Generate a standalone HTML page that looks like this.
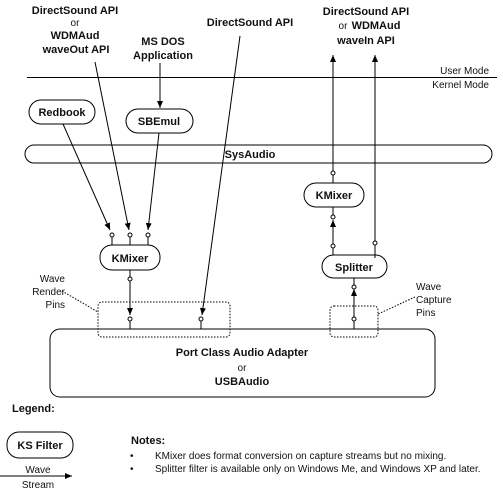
<!DOCTYPE html>
<html><head><meta charset="utf-8"><style>
html,body{margin:0;padding:0;background:#fff;}
svg{display:block;}
text{font-family:"Liberation Sans",Arial,sans-serif;fill:#111;}
.b{font-weight:bold;font-size:11px;}
.n{font-size:10px;}
</style></head><body>
<svg width="503" height="493" viewBox="0 0 503 493" xmlns="http://www.w3.org/2000/svg">
<defs>
<marker id="a" markerWidth="8" markerHeight="8" refX="7" refY="4" orient="auto" markerUnits="userSpaceOnUse"><path d="M0,1 L7,4 L0,7 Z" fill="#000"/></marker>
</defs>
<g stroke="#000" fill="none" stroke-width="1">
<line x1="27" y1="77.5" x2="497" y2="77.5"/>
<rect x="29" y="100" width="66" height="24" rx="12"/>
<rect x="126" y="109" width="67" height="24" rx="12"/>
<rect x="25" y="145" width="467" height="18" rx="9"/>
<rect x="100" y="245" width="60" height="25" rx="12"/>
<rect x="304" y="183" width="60" height="24" rx="12"/>
<rect x="322" y="255" width="65" height="23" rx="11.5"/>
<rect x="50" y="329" width="385" height="68" rx="10"/>
<rect x="7" y="432" width="66" height="26" rx="12"/>
<g stroke-dasharray="1.5,1.5">
<rect x="98" y="302" width="132" height="35" rx="4"/>
<rect x="330" y="306" width="48" height="31" rx="4"/>
<line x1="62" y1="291" x2="98" y2="312"/>
<line x1="415" y1="297" x2="378" y2="314"/>
</g>
<line x1="63" y1="124" x2="110" y2="230" marker-end="url(#a)"/>
<line x1="95" y1="62" x2="129" y2="230" marker-end="url(#a)"/>
<line x1="159" y1="133" x2="148" y2="230" marker-end="url(#a)"/>
<line x1="160" y1="63" x2="160" y2="108" marker-end="url(#a)"/>
<line x1="240" y1="36" x2="202" y2="315" marker-end="url(#a)"/>
<line x1="112" y1="237" x2="112" y2="245"/>
<line x1="130" y1="237" x2="130" y2="245"/>
<line x1="148" y1="237" x2="148" y2="245"/>
<line x1="130" y1="270" x2="130" y2="277"/>
<line x1="130" y1="281" x2="130" y2="315" marker-end="url(#a)"/>
<line x1="130" y1="321" x2="130" y2="329"/>
<line x1="201" y1="321" x2="201" y2="329"/>
<line x1="333" y1="171" x2="333" y2="55" marker-end="url(#a)"/>
<line x1="333" y1="175" x2="333" y2="183"/>
<line x1="333" y1="207" x2="333" y2="215"/>
<line x1="333" y1="244" x2="333" y2="220" marker-end="url(#a)"/>
<line x1="333" y1="248" x2="333" y2="255"/>
<line x1="375" y1="241" x2="375" y2="55" marker-end="url(#a)"/>
<line x1="375" y1="245" x2="375" y2="258"/>
<line x1="354" y1="278" x2="354" y2="285"/>
<line x1="354" y1="317" x2="354" y2="289" marker-end="url(#a)"/>
<line x1="354" y1="321" x2="354" y2="329"/>
<line x1="0" y1="476" x2="72" y2="476" marker-end="url(#a)"/>
<g fill="#fff">
<circle cx="112" cy="235" r="2"/><circle cx="130" cy="235" r="2"/><circle cx="148" cy="235" r="2"/>
<circle cx="130" cy="279" r="2"/><circle cx="130" cy="319" r="2"/><circle cx="201" cy="319" r="2"/>
<circle cx="333" cy="173" r="2"/><circle cx="333" cy="217" r="2"/><circle cx="333" cy="246" r="2"/>
<circle cx="375" cy="243" r="2"/><circle cx="354" cy="287" r="2"/><circle cx="354" cy="319" r="2"/>
</g>
</g>
<g class="b" text-anchor="middle">
<text x="75" y="14">DirectSound API</text>
<text x="75" y="39">WDMAud</text>
<text x="76" y="53">waveOut API</text>
<text x="163" y="45">MS DOS</text>
<text x="163" y="59">Application</text>
<text x="250" y="26">DirectSound API</text>
<text x="366" y="15">DirectSound API</text>
<text x="376" y="29">WDMAud</text>
<text x="366" y="44">waveIn API</text>
<text x="62" y="116">Redbook</text>
<text x="159" y="125">SBEmul</text>
<text x="250" y="158">SysAudio</text>
<text x="130" y="262">KMixer</text>
<text x="334" y="199">KMixer</text>
<text x="354" y="271">Splitter</text>
<text x="242" y="356">Port Class Audio Adapter</text>
<text x="242" y="385">USBAudio</text>
<text x="40" y="449">KS Filter</text>
</g>
<g class="n" text-anchor="middle">
<text x="75" y="26">or</text>
<text x="343" y="29">or</text>
<text x="242" y="371">or</text>
<text x="38" y="473">Wave</text>
<text x="38" y="488">Stream</text>
</g>
<g class="n" text-anchor="end">
<text x="489" y="74">User Mode</text>
<text x="489" y="88">Kernel Mode</text>
<text x="65" y="282">Wave</text>
<text x="65" y="295">Render</text>
<text x="65" y="308">Pins</text>
</g>
<g class="n">
<text x="416" y="290">Wave</text>
<text x="416" y="303">Capture</text>
<text x="416" y="316">Pins</text>
<text x="12" y="412" class="b">Legend:</text>
<text x="131" y="444" class="b">Notes:</text>
<text x="130" y="459">•</text>
<text x="155" y="459">KMixer does format conversion on capture streams but no mixing.</text>
<text x="130" y="472">•</text>
<text x="155" y="472">Splitter filter is available only on Windows Me, and Windows XP and later.</text>
</g>
</svg>
</body></html>
